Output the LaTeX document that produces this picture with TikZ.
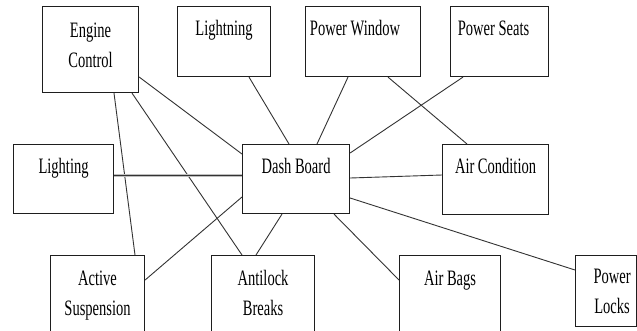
\documentclass[tikz,border=0pt]{standalone}
\usepackage{fontspec}
\setmainfont[FakeStretch=0.66]{Liberation Serif}
\usetikzlibrary{calc}
\definecolor{edge}{HTML}{1E1E1E}
\definecolor{wire}{HTML}{333333}
\begin{document}
\begin{tikzpicture}[x=1pt,y=-1pt,
  unit/.style={draw=edge,line width=1.1pt,rectangle,anchor=north west,inner sep=0pt},
  lbl/.style={anchor=base,inner sep=0pt,text=black,font=\fontsize{22}{30}\selectfont},
  wirel/.style={draw=wire,line width=0.9pt}]
\useasboundingbox (0,0) rectangle (637,330);
\fill[white] (0,0) rectangle (637,330);
\clip (0,0) rectangle (637,330);

% component boxes
\node[unit,minimum width=96pt,minimum height=86pt] (eng) at (42,6) {};
\node[unit,minimum width=93pt,minimum height=70pt] (lightn) at (177,6) {};
\node[unit,minimum width=115pt,minimum height=70pt] (pwin) at (305,6) {};
\node[unit,minimum width=98pt,minimum height=70pt] (pseat) at (450,6) {};
\node[unit,minimum width=107pt,minimum height=69pt] (dash) at (242,144) {};
\node[unit,minimum width=100pt,minimum height=69pt] (lighting) at (13,144) {};
\node[unit,minimum width=106pt,minimum height=70pt] (aircond) at (442,144) {};
\node[unit,minimum width=94pt,minimum height=95pt] (active) at (50,255) {};
\node[unit,minimum width=103pt,minimum height=95pt] (antilock) at (211,255) {};
\node[unit,minimum width=101pt,minimum height=95pt] (airbags) at (399,255) {};
\node[unit,minimum width=61pt,minimum height=71pt] (plocks) at (575,255) {};

% labels
\node[lbl] (engA) at ($(eng.north)+(0,31)$) {Engine};
\node[lbl] (engB) at ($(eng.north)+(0,61)$) {Control};
\node[lbl] (lightnA) at ($(lightn.north)+(0,29)$) {Lightning};
\node[lbl] (pwinA) at ($(pwin.north)+(-8,29)$) {Power Window};
\node[lbl] (pseatA) at ($(pseat.north)+(-6,29)$) {Power Seats};
\node[lbl] (dashA) at ($(dash.north)+(0,29)$) {Dash Board};
\node[lbl] (lightingA) at ($(lighting.north)+(0,29)$) {Lighting};
\node[lbl] (aircondA) at ($(aircond.north)+(0,29)$) {Air Condition};
\node[lbl] (activeA) at ($(active.north)+(0,30)$) {Active};
\node[lbl] (activeB) at ($(active.north)+(0,60)$) {Suspension};
\node[lbl] (antilockA) at ($(antilock.north)+(0,30)$) {Antilock};
\node[lbl] (antilockB) at ($(antilock.north)+(0,60)$) {Breaks};
\node[lbl] (airbagsA) at ($(airbags.north)+(0,30)$) {Air Bags};
\node[lbl] (plocksA) at ($(plocks.north)+(6,28)$) {Power};
\node[lbl] (plocksB) at ($(plocks.north)+(6,58)$) {Locks};

% connections
\draw[wirel] ($(eng.north east)+(0,71)$) -- ($(dash.north west)+(0,10)$);
\draw[wirel] ($(eng.south west)+(72,0)$) -- ($(active.north west)+(85,0)$);
\draw[wirel] ($(eng.south west)+(90,0)$) -- ($(antilock.north west)+(31,0)$);
\draw[wirel] ($(lightn.south west)+(72,0)$) -- ($(dash.north west)+(47,0)$);
\draw[wirel] ($(pwin.south west)+(43,0)$) -- ($(dash.north west)+(75,0)$);
\draw[wirel] ($(pwin.south west)+(83,0)$) -- ($(aircond.north west)+(25,0)$);
\draw[wirel] ($(pseat.south west)+(13,0)$) -- ($(dash.north east)+(0,9)$);
\draw[draw=black!25,line width=3pt] ($(lighting.north east)+(0,31)$) -- ($(dash.north west)+(0,31)$);
\draw[wirel] ($(lighting.north east)+(0,31)$) -- ($(dash.north west)+(0,31)$);
\draw[wirel] ($(dash.north east)+(0,34)$) -- ($(aircond.north west)+(0,31)$);
\draw[wirel] ($(dash.north west)+(0,53)$) -- ($(active.north east)+(0,25)$);
\draw[wirel] ($(dash.south west)+(40,0)$) -- ($(antilock.north west)+(45,0)$);
\draw[wirel] ($(dash.south west)+(92,0)$) -- ($(airbags.north west)+(0,25)$);
\draw[wirel] ($(dash.north east)+(0,54)$) -- ($(plocks.north west)+(0,15)$);
\end{tikzpicture}
\end{document}
